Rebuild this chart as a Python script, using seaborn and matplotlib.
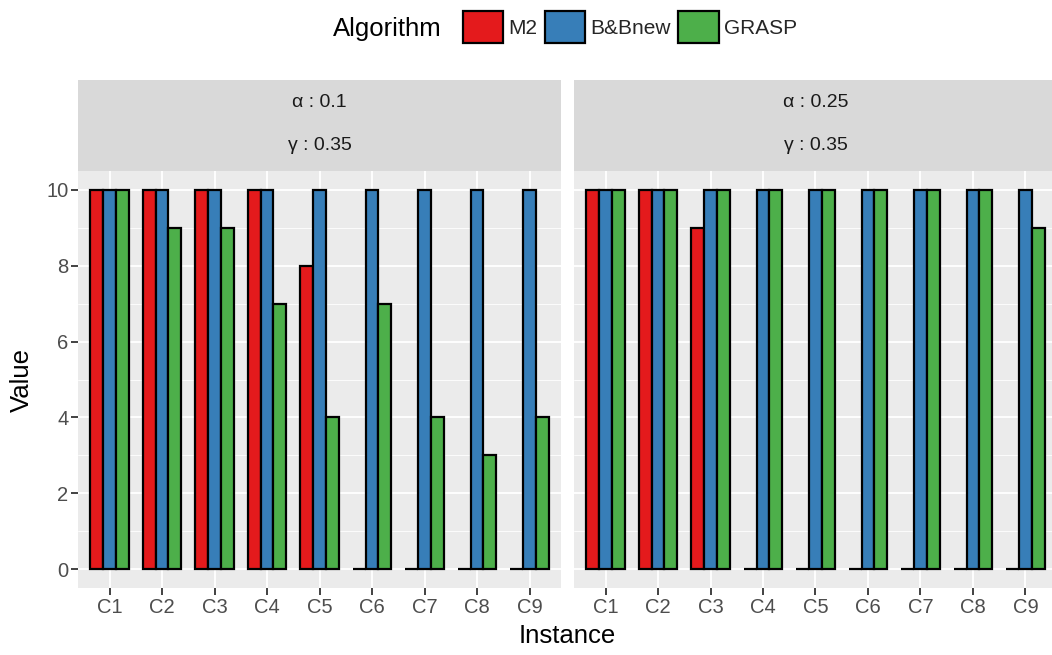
import numpy as np
import pandas as pd
import matplotlib
matplotlib.use("Agg")
import matplotlib.pyplot as plt
import seaborn as sns
from matplotlib.patches import Patch
from matplotlib.ticker import MultipleLocator

# ---------------- data ----------------
instances = ["C1", "C2", "C3", "C4", "C5", "C6", "C7", "C8", "C9"]
algorithms = ["M2", "B&Bnew", "GRASP"]
colors = ["#E41A1C", "#377EB8", "#4DAF4A"]

panel_alpha = ["0.1", "0.25"]
panel_gamma = ["0.35", "0.35"]

m2_a01 = [10, 10, 10, 10, 8, 0, 0, 0, 0]
bb_a01 = [10, 10, 10, 10, 10, 10, 10, 10, 10]
grasp_a01 = [10, 9, 9, 7, 4, 7, 4, 3, 4]

m2_a025 = [10, 10, 9, 0, 0, 0, 0, 0, 0]
bb_a025 = [10, 10, 10, 10, 10, 10, 10, 10, 10]
grasp_a025 = [10, 10, 10, 10, 10, 10, 10, 10, 9]

panels = [
    {"M2": m2_a01, "B&Bnew": bb_a01, "GRASP": grasp_a01},
    {"M2": m2_a025, "B&Bnew": bb_a025, "GRASP": grasp_a025},
]

def make_df(p):
    rows = []
    for alg in algorithms:
        for inst, v in zip(instances, p[alg]):
            rows.append({"Instance": inst, "Algorithm": alg, "Value": v})
    return pd.DataFrame(rows)

# ---------------- figure ----------------
sns.set_theme(style="white")
plt.rcParams["font.family"] = ["Liberation Sans", "DejaVu Sans"]

W, H = 1052, 655
fig = plt.figure(figsize=(W / 100, H / 100), dpi=100)

def box(x0, y0, x1, y1):
    return [x0 / W, 1 - y1 / H, (x1 - x0) / W, (y1 - y0) / H]

panel_x = [(78, 561), (574, 1057)]
panel_y = (171, 588)
strip_y = (80, 171)

tick_col = "#4D4D4D"
for i, p in enumerate(panels):
    x0, x1 = panel_x[i]
    ax = fig.add_axes(box(x0, panel_y[0], x1, panel_y[1]))
    ax.set_facecolor("#EBEBEB")
    df = make_df(p)
    sns.barplot(data=df, x="Instance", y="Value", hue="Algorithm",
                order=instances, hue_order=algorithms, palette=colors,
                saturation=1, width=0.74, edgecolor="black", linewidth=1.6,
                errorbar=None, legend=False, ax=ax, zorder=3)
    ax.set_xlim(-0.6, 8.6)
    ax.set_ylim(-0.5, 10.5)
    ax.yaxis.set_major_locator(MultipleLocator(2))
    ax.yaxis.set_minor_locator(MultipleLocator(1))
    ax.set_axisbelow(True)
    ax.grid(which="major", axis="both", color="white", linewidth=1.3, zorder=0)
    ax.grid(which="minor", axis="y", color="white", linewidth=0.6, zorder=0)
    for s in ax.spines.values():
        s.set_visible(False)
    ax.tick_params(axis="both", which="major", length=5, width=1.3,
                   color="#333333", labelcolor=tick_col, labelsize=14.5, pad=2,
                   bottom=True, left=True)
    ax.tick_params(axis="both", which="minor", length=0)
    ax.set_xlabel("")
    ax.set_ylabel("")
    if i == 1:
        ax.tick_params(axis="y", which="both", left=False, labelleft=False)

    # strip
    sax = fig.add_axes(box(x0, strip_y[0], x1, strip_y[1]))
    sax.set_facecolor("#D9D9D9")
    sax.set_xticks([])
    sax.set_yticks([])
    for s in sax.spines.values():
        s.set_visible(False)
    cx = 0.5 if i == 0 else ((x0 + x1) / 2 - x0) / (x1 - x0)
    sax.text(cx, 1 - (102 - strip_y[0]) / (strip_y[1] - strip_y[0]),
             "\u03b1 : " + panel_alpha[i], ha="center", va="center",
             fontsize=14, color="#1A1A1A", transform=sax.transAxes)
    sax.text(cx, 1 - (145 - strip_y[0]) / (strip_y[1] - strip_y[0]),
             "\u03b3 : " + panel_gamma[i], ha="center", va="center",
             fontsize=14, color="#1A1A1A", transform=sax.transAxes)

# axis titles
fig.text(22 / W, 1 - 380 / H, "Value", rotation=90, ha="center", va="center",
         fontsize=18.5, color="black")
fig.text(567 / W, 1 - 636 / H, "Instance", ha="center", va="center",
         fontsize=18.5, color="black")

# legend
fig.text(387 / W, 1 - 29 / H, "Algorithm", ha="center", va="center",
         fontsize=18.5, color="black")
handles = [Patch(facecolor=c, edgecolor="black", linewidth=1.6) for c in colors]
leg = fig.legend(handles, algorithms, loc="center", ncol=3,
                 bbox_to_anchor=(630 / W, 1 - 27 / H), frameon=False,
                 fontsize=15, handlelength=1.95, handleheight=1.95,
                 handletextpad=0.25, columnspacing=0.35, borderaxespad=0)

fig.savefig("out.png", dpi=100)
